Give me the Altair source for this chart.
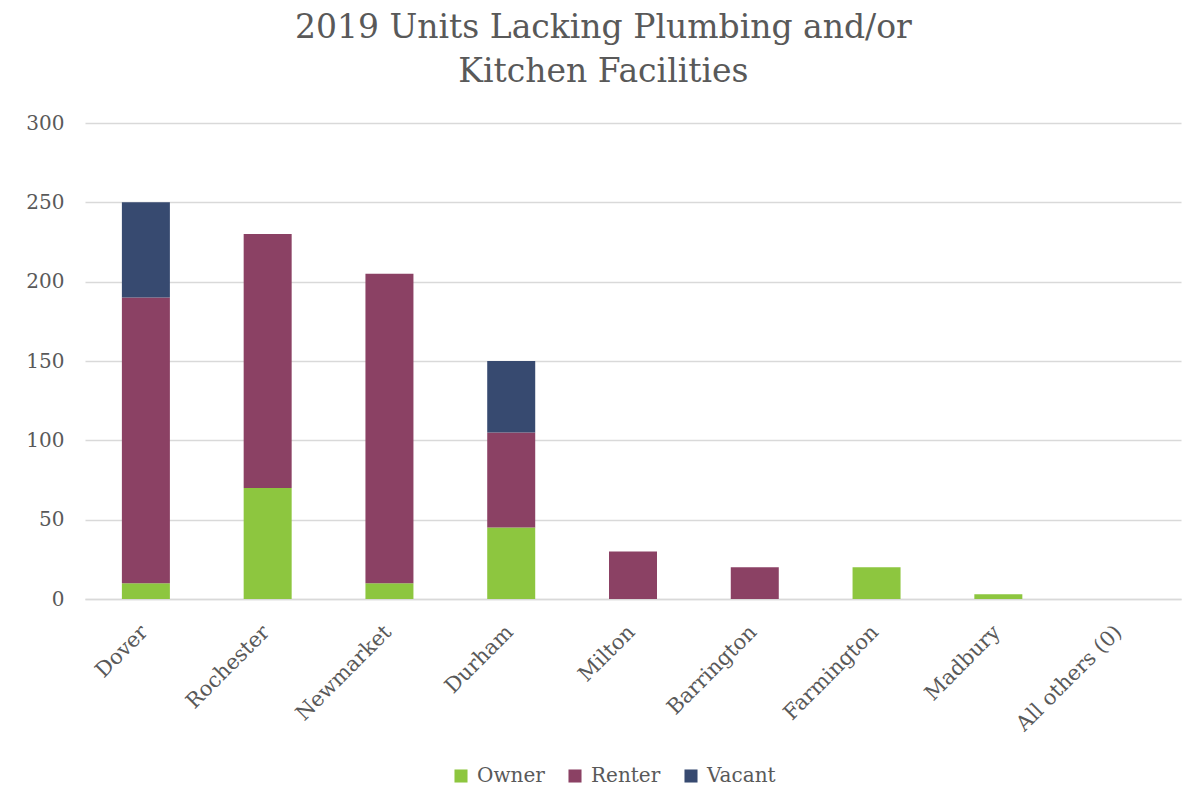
import altair as alt
import pandas as pd

towns = ["Dover", "Rochester", "Newmarket", "Durham", "Milton",
         "Barrington", "Farmington", "Madbury", "All others (0)"]
owner = [10, 70, 10, 45, 0, 0, 20, 3, 0]
renter = [180, 160, 195, 60, 30, 20, 0, 0, 0]
vacant = [60, 0, 0, 45, 0, 0, 0, 0, 0]

tenure = ["Owner", "Renter", "Vacant"]
colors = ["#8DC63F", "#8B4164", "#374A70"]

rows = []
for series, values in zip(tenure, [owner, renter, vacant]):
    for town, v in zip(towns, values):
        rows.append({"Town": town, "Tenure": series, "Units": v,
                     "rank": tenure.index(series)})
df = pd.DataFrame(rows)

FONT = "DejaVu Serif"
TEXT = "#595959"

chart = alt.Chart(df).mark_bar(size=48).encode(
    x=alt.X("Town:N", sort=towns,
            scale=alt.Scale(paddingInner=0, paddingOuter=0),
            axis=alt.Axis(title=None, labelAngle=-45, labelFontSize=21,
                          labelFont=FONT, labelColor=TEXT, ticks=False,
                          grid=False, domainColor="#d9d9d9", domainWidth=1.5,
                          labelPadding=22, labelOffset=-9)),
    y=alt.Y("Units:Q", stack="zero",
            scale=alt.Scale(domain=[0, 300], nice=False),
            axis=alt.Axis(title=None, values=[0, 50, 100, 150, 200, 250, 300],
                          labelFontSize=20, labelFont=FONT, labelColor=TEXT,
                          ticks=False, domain=False, gridColor="#d9d9d9",
                          gridWidth=1.5, labelPadding=21)),
    color=alt.Color("Tenure:N", sort=tenure,
                    scale=alt.Scale(domain=tenure, range=colors),
                    legend=alt.Legend(title=None, orient="none",
                                      direction="horizontal",
                                      legendX=366, legendY=643,
                                      symbolType="square", symbolSize=170,
                                      symbolStrokeWidth=0,
                                      labelFontSize=20, labelFont=FONT,
                                      labelColor=TEXT, columnPadding=20,
                                      labelOffset=6)),
    order=alt.Order("rank:Q", sort="ascending"),
).properties(
    width=1096,
    height=476,
    background="white",
    title=alt.Title(["2019 Units Lacking Plumbing and/or", "Kitchen Facilities"],
                    font=FONT, fontSize=33, fontWeight="normal", color=TEXT,
                    anchor="middle", frame="bounds", lineHeight=44, offset=24),
    autosize=alt.AutoSizeParams(type="none"),
    padding={"left": 85, "top": 123, "right": 13, "bottom": 192},
).configure_view(strokeWidth=0, stroke=None)

chart.save("out.html", embed_options={"renderer": "svg", "actions": False})
